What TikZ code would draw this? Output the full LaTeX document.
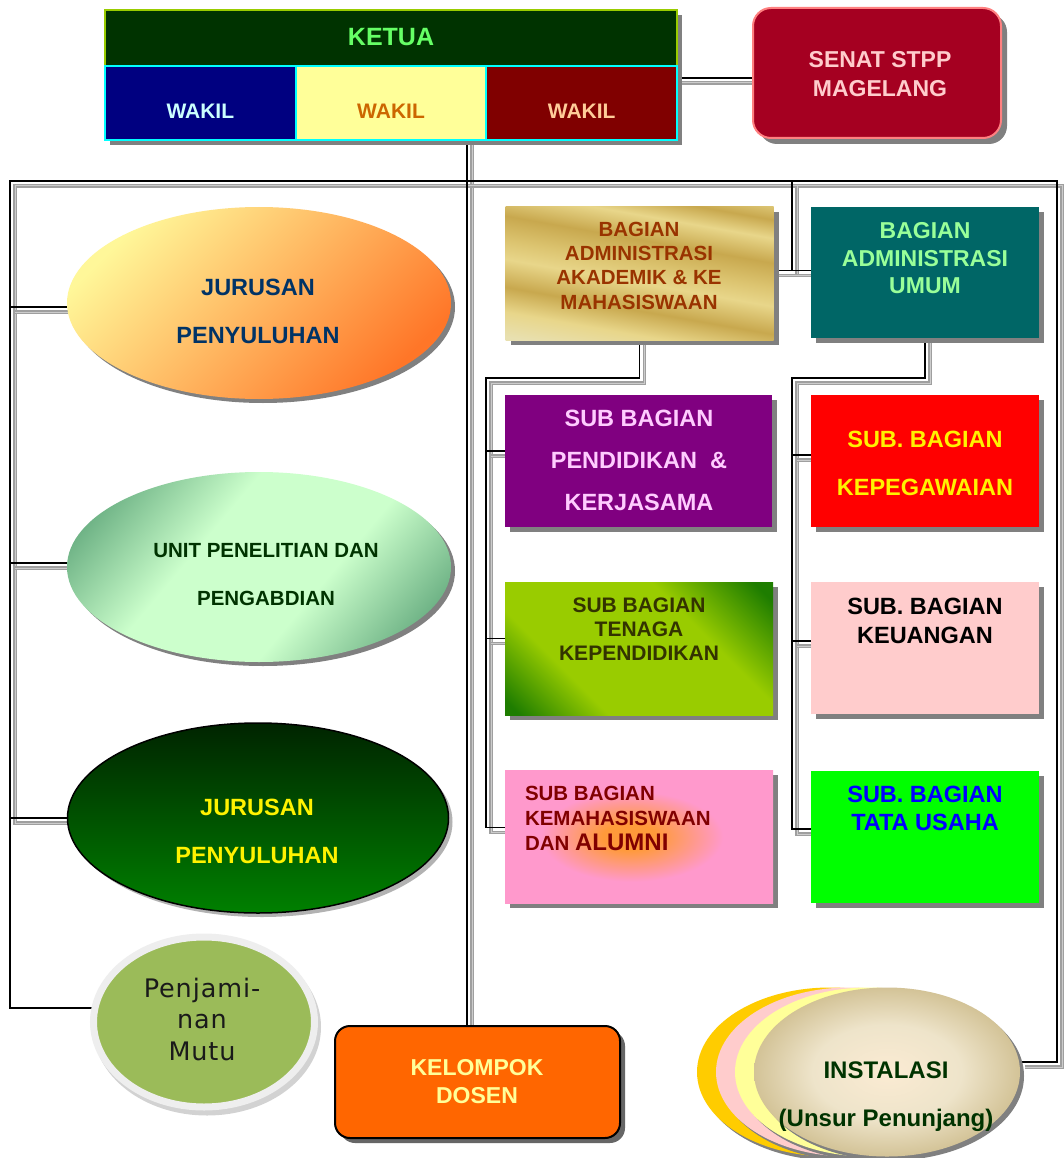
\documentclass[tikz,border=0pt]{standalone}
\usepackage{fontspec}
\setmainfont{Liberation Sans}
\newfontfamily\pmfont[LetterSpace=3.5]{DejaVu Sans}
\usetikzlibrary{shapes.geometric,shadows,calc}
\pgfdeclarelayer{background}
\pgfsetlayers{background,main}
\newcommand\orgfs[2]{\fontsize{#1}{#2}\selectfont}
\definecolor{shgray}{HTML}{808080}
\definecolor{ketuaFill}{HTML}{003300}
\definecolor{ketuaLine}{HTML}{99CC00}
\definecolor{ketuaText}{HTML}{66FF66}
\definecolor{cyanLine}{HTML}{00FFFF}
\definecolor{wOneFill}{HTML}{000080}
\definecolor{wOneText}{HTML}{CCFFFF}
\definecolor{wTwoFill}{HTML}{FFFF99}
\definecolor{wTwoText}{HTML}{CC6600}
\definecolor{wThreeFill}{HTML}{800000}
\definecolor{wThreeText}{HTML}{FFCC99}
\definecolor{senatFill}{HTML}{A50021}
\definecolor{senatLine}{HTML}{FF8080}
\definecolor{senatText}{HTML}{FFCCCC}
\definecolor{jurY}{HTML}{FFF799}
\definecolor{jurO}{HTML}{FF7628}
\definecolor{jurText}{HTML}{003366}
\definecolor{unitDark}{HTML}{5FA67A}
\definecolor{unitLight}{HTML}{CCFFCC}
\definecolor{unitText}{HTML}{003300}
\definecolor{jurTwoTop}{HTML}{002400}
\definecolor{jurTwoBot}{HTML}{008000}
\definecolor{pmRing}{HTML}{EEEEEE}
\definecolor{pmFill}{HTML}{9BBB59}
\definecolor{pmText}{HTML}{1A1A1A}
\definecolor{kelFill}{HTML}{FF6600}
\definecolor{kelText}{HTML}{FFFF99}
\definecolor{goldL}{HTML}{E8D68A}
\definecolor{goldM}{HTML}{DCC470}
\definecolor{goldD}{HTML}{C8A84E}
\definecolor{goldC}{HTML}{E8E0B0}
\definecolor{akadText}{HTML}{993300}
\definecolor{umumFill}{HTML}{006666}
\definecolor{umumText}{HTML}{99FF99}
\definecolor{pendFill}{HTML}{800080}
\definecolor{pendText}{HTML}{FFCCFF}
\definecolor{tenLime}{HTML}{99CC00}
\definecolor{tenDark}{HTML}{1E7D00}
\definecolor{tenText}{HTML}{333300}
\definecolor{kemaPink}{HTML}{FF99CC}
\definecolor{kemaGlow}{HTML}{FF9A3A}
\definecolor{kemaText}{HTML}{800000}
\definecolor{keuFill}{HTML}{FFCCCC}
\definecolor{tataFill}{HTML}{00FF00}
\definecolor{tataText}{HTML}{0000FF}
\definecolor{instO}{HTML}{FFCC00}
\definecolor{instP}{HTML}{FFCCCC}
\definecolor{instY}{HTML}{FFFF99}
\definecolor{instCream}{HTML}{FBEBD3}
\definecolor{instMid}{HTML}{EEE4CA}
\definecolor{instTan}{HTML}{D3C397}
\definecolor{instText}{HTML}{003300}
\pgfdeclarehorizontalshading{unitband}{100bp}{color(0bp)=(unitDark); color(20bp)=(unitDark); color(40bp)=(unitLight); color(60bp)=(unitLight); color(80bp)=(unitDark); color(100bp)=(unitDark)}
\pgfdeclarehorizontalshading{tenband}{100bp}{color(0bp)=(tenDark); color(17bp)=(tenDark); color(33bp)=(tenLime); color(64bp)=(tenLime); color(82bp)=(tenDark); color(100bp)=(tenDark)}
\pgfdeclarehorizontalshading{goldband}{100bp}{color(0bp)=(goldC); color(22bp)=(goldC); color(30bp)=(goldL); color(38bp)=(goldD); color(47bp)=(goldL); color(53bp)=(goldM); color(61bp)=(goldD); color(69bp)=(goldL); color(75bp)=(goldD); color(82bp)=(goldL); color(100bp)=(goldL)}
\pgfdeclareradialshading{kemaglowsh}{\pgfpoint{-2bp}{0bp}}{color(0bp)=(kemaGlow); color(5bp)=(kemaGlow); color(17bp)=(kemaPink); color(50bp)=(kemaPink)}
\pgfdeclareradialshading{instsh}{\pgfpoint{0bp}{0bp}}{color(0bp)=(instCream); color(14bp)=(instMid); color(25bp)=(instTan); color(50bp)=(instTan)}
\newcommand\orgconnectors{%
  \draw[cn] (ketuaC) -- (senatC);
  \draw[cn] (w2.south -| vx) -- (kel.north -| vx);
  \draw[cn] (jur2.west) -- (jur2.west -| busL) -- (busL) -- (busR) -- (busR |- instc) -- (instc);
  \draw[cn] (busL |- jur1C) -- (jur1C);
  \draw[cn] (busL |- unitC) -- (unitC);
  \draw[cn] (bx) -- (bx |- akadC);
  \draw[cn] (akadC) -- (umumC);
  \draw[cn] (akad.south) |- (lx) -- (lx |- kemaC) -- (kemaC);
  \draw[cn] (lx |- pendC) -- (pendC);
  \draw[cn] (lx |- tenC) -- (tenC);
  \draw[cn] (umum.south) |- (rx) -- (rx |- tataC) -- (tataC);
  \draw[cn] (rx |- kepegC) -- (kepegC);
  \draw[cn] (rx |- keuC) -- (keuC);
}
\begin{document}
\begin{tikzpicture}[x=1pt,y=-1pt,
  box/.style={rectangle, inner sep=0pt, outer sep=0pt},
  ell/.style={ellipse, inner sep=0pt, outer sep=0pt},
  shd/.style={general shadow={fill=shgray, shadow xshift=#1, shadow yshift=-#1}},
  shd/.default=5pt,
  cell/.style={box, minimum width=190.67pt, minimum height=74pt, draw=cyanLine, line width=2pt, shd},
  txt/.style={inner sep=0pt, outer sep=0pt, align=center},
  subbox/.style={box, minimum width=268pt, minimum height=133pt, shd},
  rbox/.style={box, minimum width=228pt, minimum height=132pt, shd}]
\useasboundingbox (0,0) rectangle (1064,1158);
% ---- top ----
\node[box, minimum width=572pt, minimum height=56pt, fill=ketuaFill, draw=ketuaLine, line width=1.5pt, shd] (ketua) at (391,38) {};
\node[cell, fill=wOneFill] (w1) at (200.33,103) {};
\node[cell, fill=wTwoFill] (w2) at (391,103) {};
\node[cell, fill=wThreeFill] (w3) at (581.67,103) {};
\node[box, rounded corners=18pt, minimum width=248pt, minimum height=130pt, fill=senatFill, draw=senatLine, line width=2pt, shd=6pt] (senat) at (877,73) {};
\node[txt, text=ketuaText, font=\bfseries\orgfs{25}{30}] (tketua) at (391,37) {KETUA};
\node[txt, text=wOneText, font=\bfseries\orgfs{21}{25}] (tw1) at (200.33,111) {WAKIL};
\node[txt, text=wTwoText, font=\bfseries\orgfs{21}{25}] (tw2) at (391,111) {WAKIL};
\node[txt, text=wThreeText, font=\bfseries\orgfs{21}{25}] (tw3) at (581.67,111) {WAKIL};
\node[txt, text=senatText, font=\bfseries\orgfs{23}{29}] (tsenat) at (880,74.5) {SENAT STPP\\MAGELANG};
% ---- left ellipses ----
\node[ell, minimum width=384pt, minimum height=192pt, left color=jurY, right color=jurO, shading angle=45, shd=4pt] (jur1) at (259,303) {};
\node[ell, minimum width=384pt, minimum height=190pt, shade, shading=unitband, shading angle=-40, shd=4pt] (unit) at (259,567) {};
\node[ell, minimum width=381pt, minimum height=190pt, top color=jurTwoTop, bottom color=jurTwoBot, draw=black, line width=1.5pt, general shadow={fill=gray!60, shadow xshift=4pt, shadow yshift=-4pt}] (jur2) at (258,818) {};
\node[ell, minimum width=221pt, minimum height=170pt, fill=pmFill, draw=pmRing, line width=7pt, general shadow={fill=gray!35, draw=gray!35, line width=7pt, shadow xshift=3pt, shadow yshift=-5pt}] (pm) at (204,1022) {};
\node[txt, text=jurText, font=\bfseries\orgfs{23.5}{48}] (tjur1) at (258,311) {JURUSAN\\PENYULUHAN};
\node[txt, text=unitText, font=\bfseries\orgfs{20.5}{48}] (tunit) at (266,575) {UNIT PENELITIAN DAN\\PENGABDIAN};
\node[txt, text=yellow, font=\bfseries\orgfs{23.5}{48}] (tjur2) at (257,831) {JURUSAN\\PENYULUHAN};
\node[txt, text=pmText, font=\pmfont\orgfs{25.5}{31.5}] (tpm) at (202,1019) {Penjami-\\nan\\Mutu};
% ---- kelompok ----
\node[box, rounded corners=15pt, minimum width=285pt, minimum height=112pt, fill=kelFill, draw=black, line width=2pt, general shadow={fill=gray!80!black, shadow xshift=5pt, shadow yshift=-5pt}] (kel) at (477.5,1082) {};
\node[txt, text=kelText, font=\bfseries\orgfs{23}{28}] (tkel) at (477,1082) {KELOMPOK\\DOSEN};
% ---- right boxes ----
\node[subbox, shade, shading=goldband, shading angle=80] (akad) at (639.5,273.5) {};
\node[rbox, minimum height=131pt, fill=umumFill] (umum) at (925,272.5) {};
\node[subbox, minimum width=267pt, minimum height=132pt, fill=pendFill] (pend) at (638.5,461) {};
\node[rbox, fill=red] (kepeg) at (925,461) {};
\node[subbox, shade, shading=tenband, shading angle=45] (ten) at (639,648.5) {};
\node[rbox, fill=keuFill] (keu) at (925,648) {};
\node[subbox, shade, shading=kemaglowsh] (kema) at (639,836.5) {};
\node[rbox, fill=tataFill] (tata) at (925,837) {};
\node[txt, text=akadText, font=\bfseries\orgfs{20.5}{24.3}] (takad) at (639,265.5) {BAGIAN\\ADMINISTRASI\\AKADEMIK \& KE\\MAHASISWAAN};
\node[txt, text=umumText, font=\bfseries\orgfs{23}{27.5}] (tumum) at (925,258.5) {BAGIAN\\ADMINISTRASI\\UMUM};
\node[txt, text=pendText, font=\bfseries\orgfs{23.5}{42}] (tpend) at (639,460) {SUB BAGIAN\\PENDIDIKAN\ \ \&\\KERJASAMA};
\node[txt, text=yellow, font=\bfseries\orgfs{23.5}{48}] (tkepeg) at (925,463) {SUB. BAGIAN\\KEPEGAWAIAN};
\node[txt, text=tenText, font=\bfseries\orgfs{21}{24}] (tten) at (639,629) {SUB BAGIAN\\TENAGA\\KEPENDIDIKAN};
\node[txt, text=black, font=\bfseries\orgfs{23.5}{29}] (tkeu) at (925,620.5) {SUB. BAGIAN\\KEUANGAN};
\node[txt, align=left, anchor=west, text=kemaText, font=\bfseries\orgfs{20.5}{25}] (tkema) at (525,818.5) {SUB BAGIAN\\KEMAHASISWAAN\\DAN {\orgfs{24}{25}ALUMNI}};
\node[txt, text=tataText, font=\bfseries\orgfs{23.5}{28}] (ttata) at (925,808) {SUB. BAGIAN\\TATA USAHA};
% ---- instalasi ----
\node[ell, minimum width=266pt, minimum height=169pt, fill=instO, shd=4pt] (instA) at (830,1072) {};
\node[ell, minimum width=266pt, minimum height=169pt, fill=instP, shd=4pt] (instB) at (849,1072) {};
\node[ell, minimum width=266pt, minimum height=169pt, fill=instY, shd=4pt] (instC) at (868,1072) {};
\node[ell, minimum width=266pt, minimum height=169pt, shade, shading=instsh, shd=4pt] (inst) at (887,1072) {};
\node[txt, text=instText, font=\bfseries\orgfs{24}{48}] (tinst) at (886,1096.5) {INSTALASI\\(Unsur Penunjang)};
% ---- connector points ----
\coordinate (busL) at (10,181);
\coordinate (busR) at (1057,181);
\coordinate (vx) at (467,0);
\coordinate (bx) at (792,181);
\coordinate (lx) at (486,378);
\coordinate (rx) at (792,378);
\coordinate (ketuaC) at ([yshift=-12pt]w3.north east);
\coordinate (senatC) at ([yshift=-5pt]senat.west);
\coordinate (instc) at ([yshift=10pt]inst.east);
\coordinate (jur1C) at ([yshift=-4pt]jur1.west);
\coordinate (unitC) at ([yshift=4pt]unit.west);
\coordinate (pmC) at ([yshift=14pt]pm.west);
\coordinate (akadC) at ([yshift=3pt]akad.east);
\coordinate (umumC) at ([yshift=2pt]umum.west);
\coordinate (pendC) at ([yshift=10pt]pend.west);
\coordinate (tenC) at ([yshift=10pt]ten.west);
\coordinate (kemaC) at ([yshift=9pt]kema.west);
\coordinate (kepegC) at ([yshift=6pt]kepeg.west);
\coordinate (keuC) at ([yshift=7pt]keu.west);
\coordinate (tataC) at ([yshift=8pt]tata.west);
\begin{pgfonlayer}{background}
  \fill[white] (0,0) rectangle (1064,1158);
  \begin{scope}[transform canvas={shift={(5pt,-5pt)}}, cn/.style={draw=gray!75, double=gray!40, double distance=1pt, line width=1.1pt}]
    \orgconnectors
  \end{scope}
  \begin{scope}[cn/.style={draw=black, line width=1.5pt}]
    \orgconnectors
  \end{scope}
  \draw[black, line width=1.3pt] (jur2.west -| busL) -- (busL |- pmC) -- (pmC);
\end{pgfonlayer}
\end{tikzpicture}
\end{document}
